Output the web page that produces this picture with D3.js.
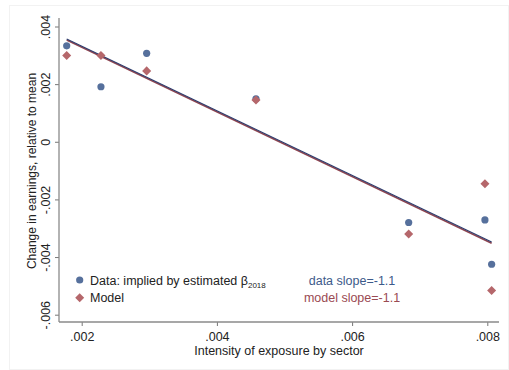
<!DOCTYPE html>
<html><head><meta charset="utf-8">
<script src="https://cdn.jsdelivr.net/npm/d3@7"></script>
<style>body{margin:0;background:#fff}text{font-family:"Liberation Sans",Arial,sans-serif}</style>
</head><body><svg id="c" width="509" height="370"></svg>
<script>
const exposure = [0.001778, 0.002285, 0.002961, 0.004578, 0.006837, 0.007965, 0.008064];
const dataVals = [0.00333, 0.00191, 0.00307, 0.00149, -0.00280, -0.00271, -0.00425];
const modelVals = [0.00299, 0.00299, 0.00246, 0.00145, -0.00320, -0.00146, -0.00516];
const fitX = [0.001778, 0.008064];
const dataFit = [0.00357, -0.00348];
const modelFit = [0.00353, -0.00352];
const xTicks = [0.002, 0.004, 0.006, 0.008];
const xTickLabels = [".002", ".004", ".006", ".008"];
const yTicks = [0.004, 0.002, 0, -0.002, -0.004, -0.006];
const yTickLabels = [".004", ".002", "0", "-.002", "-.004", "-.006"];

const svg = d3.select("#c");
const blue = "#56709c", red = "#b5676b", navyLine = "#2c3d6e", maroonLine = "#8e4550";
svg.append("rect").attr("x",9.5).attr("y",5.5).attr("width",499).attr("height",364).attr("fill","#fff").attr("stroke","#f2f2f2");

const x = d3.scaleLinear().domain([0.002, 0.008]).range([81.7, 487.3]);
const y = d3.scaleLinear().domain([-0.006, 0.004]).range([314.7, 26.5]);
const left = 59, bottom = 322, right = 499;

// axes
const xAxis = d3.axisBottom(x).tickValues(xTicks).tickFormat((d,i)=>xTickLabels[i]).tickSize(4).tickSizeOuter(0);
const gx = svg.append("g").attr("transform",`translate(0,${bottom})`).call(xAxis);
gx.select(".domain").remove();
svg.append("line").attr("x1",left).attr("x2",right).attr("y1",bottom).attr("y2",bottom).attr("stroke","#8a8a8a").attr("stroke-width",1.3);
gx.selectAll(".tick line").attr("stroke","#777");
gx.selectAll(".tick text").attr("font-size",12.5).attr("fill","#222").attr("dy","0.95em");

const yAxis = d3.axisLeft(y).tickValues(yTicks).tickFormat((d,i)=>yTickLabels[i]).tickSize(4).tickSizeOuter(0);
const gy = svg.append("g").attr("transform",`translate(${left},0)`).call(yAxis);
gy.select(".domain").remove();
svg.append("line").attr("x1",left).attr("x2",left).attr("y1",18).attr("y2",bottom).attr("stroke","#8a8a8a").attr("stroke-width",1.3);
gy.selectAll(".tick line").attr("stroke","#777");
gy.selectAll(".tick text").attr("font-size",12.5).attr("fill","#222")
  .attr("x",0).attr("dy",0).attr("text-anchor","middle")
  .attr("transform","translate(-9,0) rotate(-90)");

// fit lines
const line = d3.line().x(d=>x(d[0])).y(d=>y(d[1]));
svg.append("path").datum(fitX.map((v,i)=>[v,modelFit[i]])).attr("d",line).attr("stroke",maroonLine).attr("stroke-width",1.6).attr("fill","none");
svg.append("path").datum(fitX.map((v,i)=>[v,dataFit[i]])).attr("d",line).attr("stroke",navyLine).attr("stroke-width",1.1).attr("fill","none");

// points
svg.selectAll(".dot").data(exposure).enter().append("circle")
  .attr("cx",(d)=>x(d)).attr("cy",(d,i)=>y(dataVals[i])).attr("r",3.6).attr("fill",blue);
const diamond = d3.symbol().type(d3.symbolDiamond2).size(52);
svg.selectAll(".dia").data(exposure).enter().append("path")
  .attr("d",diamond).attr("transform",(d,i)=>`translate(${x(d)},${y(modelVals[i])})`).attr("fill",red);

// legend
svg.append("circle").attr("cx",79.7).attr("cy",280).attr("r",3.6).attr("fill",blue);
svg.append("path").attr("d",diamond).attr("transform","translate(79.7,297.7)").attr("fill",red);
const t1 = svg.append("text").attr("x",90).attr("y",284.5).attr("font-size",12.5).attr("fill","#222");
t1.append("tspan").text("Data: implied by estimated β");
t1.append("tspan").attr("font-size",8).attr("dy",3).text("2018");
svg.append("text").attr("x",90).attr("y",302.3).attr("font-size",12.5).attr("fill","#222").text("Model");
svg.append("text").attr("x",352).attr("y",284.5).attr("font-size",12.5).attr("fill","#3d5a8a").attr("text-anchor","middle").text("data slope=-1.1");
svg.append("text").attr("x",352).attr("y",302.3).attr("font-size",12.5).attr("fill","#9a4a52").attr("text-anchor","middle").text("model slope=-1.1");

// titles
svg.append("text").attr("x",279).attr("y",355).attr("font-size",12.5).attr("fill","#222").attr("text-anchor","middle").text("Intensity of exposure by sector");
svg.append("text").attr("transform","translate(36,171) rotate(-90)").attr("font-size",12).attr("fill","#222").attr("text-anchor","middle").text("Change in earnings, relative to mean");
</script></body></html>
